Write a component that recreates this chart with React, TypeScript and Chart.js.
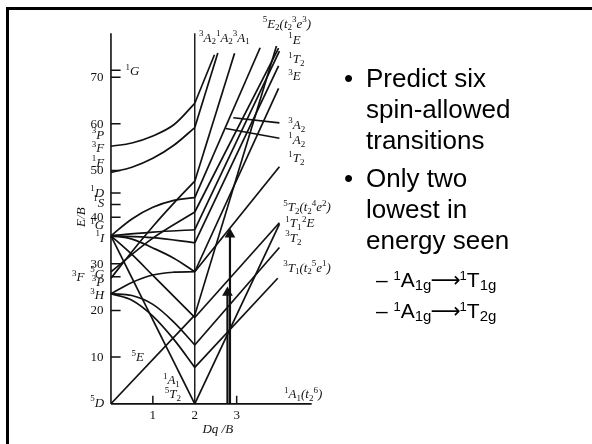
import React, { useEffect, useRef } from 'react';
import { Chart, registerables } from 'chart.js';
Chart.register(...registerables);

type P = [number, number];

// ---- axes ----
const axisTopE = 79.4;
const baselineEndX = 4.79;
const yTickValues = [10, 20, 30, 40, 50, 60, 70];
const termTickValues = [71.5, 45.2, 42.7, 27.2];
const xTickValues = [1, 3];
const xTickLabelValues = [1, 2, 3];

// ---- weak-field part (Dq/B 0 -> 2), energies E/B ----
const w3P: P[] = [[0, 55.2], [0.5, 55.9], [1, 57.4], [1.5, 59.8], [2, 64.4]];
const w1F: P[] = [[0, 49.6], [0.5, 50.7], [1, 52.6], [1.5, 55.4], [2, 59.2]];
const wRiseA: P[] = [[0, 26.9], [0.5, 32.6], [1, 38.0], [1.5, 43.0], [2, 47.7]];
const wRiseB: P[] = [[0, 28.3], [1, 35.5], [2, 41.1]];
const w1Iup: P[] = [[0, 36], [0.5, 39.6], [1, 42.1], [1.5, 43.6], [2, 44.2]];
const w1Iflat: P[] = [[0, 36], [1, 36.8], [2, 37.3]];
const w1Ilow: P[] = [[0, 36], [1, 35.6], [2, 34.5]];
const w1Iarch: P[] = [[0, 36], [0.5, 35.3], [1, 33.4], [1.5, 31.2], [2, 28.3]];
const w3Harch: P[] = [[0, 23.6], [0.5, 26.0], [1, 27.6], [1.5, 28.2], [2, 28.3]];
const w1A1: P[] = [[0, 36], [2, 0]];
const w1T1: P[] = [[0, 36], [0.5, 32.0], [1, 27.5], [1.5, 23.0], [2, 18.5]];
const w3T2: P[] = [[0, 23.6], [0.5, 23.2], [1, 21.3], [1.5, 17.5], [2, 12.6]];
const w3T1: P[] = [[0, 23.6], [0.5, 22.2], [1, 18.8], [1.5, 13.8], [2, 7.8]];
const w5E: P[] = [[0, 0], [2, 19]];

// ---- strong-field part (Dq/B 2 -> 4) ----
const sA: P[] = [[2, 64.4], [2.47, 74.8]];
const sB: P[] = [[2, 59.2], [2.55, 75.2]];
const sC: P[] = [[2, 47.7], [2.95, 75.1]];
const sD: P[] = [[2, 44.2], [3.56, 76.3]];
const sE: P[] = [[2, 41.1], [4.0, 76.2]];
const sF: P[] = [[2, 37.3], [4.02, 75.6]];
const sG: P[] = [[2, 34.5], [4.0, 72.4]];
const sH: P[] = [[2, 28.3], [4.0, 67.6]];
const s1T2: P[] = [[2, 28.3], [4.02, 50.8]];
const s5E: P[] = [[2, 19], [3.95, 76.7]];
const s1T1: P[] = [[2, 18.5], [4.02, 38.8]];
const s5T2: P[] = [[2, 0], [4.02, 38.5]];
const s3T2: P[] = [[2, 12.6], [4.02, 33.5]];
const s3T1: P[] = [[2, 7.8], [3.98, 26.9]];
const s3A2: P[] = [[2.92, 61.3], [4.02, 60.2]];
const s1A2: P[] = [[2.74, 59.0], [4.02, 56.9]];

// ---- observed transitions (arrows) ----
const arrowX = [2.78, 2.84];
const arrowTopE = [23.8, 36.3];

// ---- labels: [text, x, E (centre), align] ----
const termLabels: [string, number, number, string][] = [
  ['^5D', -0.16, 0.2, 'r'],
  ['^3H', -0.16, 23.3, 'r'],
  ['^3P', -0.16, 26.0, 'r'],
  ['^5G', -0.16, 27.9, 'r'],
  ['^3F', -0.63, 27.1, 'r'],
  ['^1I', -0.16, 35.6, 'r'],
  ['^1G', -0.16, 38.3, 'r'],
  ['^1S', -0.16, 43.1, 'r'],
  ['^1D', -0.16, 45.2, 'r'],
  ['^1F', -0.16, 51.7, 'r'],
  ['^3F', -0.16, 54.8, 'r'],
  ['^3P', -0.16, 57.7, 'r'],
  ['^1G', 0.35, 71.25, 'l'],
  ['^5E', 0.49, 10, 'l'],
  ['^1A_1', 1.24, 5, 'l'],
  ['^5T_2', 1.285, 2.1, 'l'],
  ['^3A_2^1A_2^3A_1', 2.1, 78.5, 'l'],
  ['^5E_2(t_2^3e^3)', 3.62, 81.5, 'l'],
  ['^1E', 4.23, 78.0, 'l'],
  ['^1T_2', 4.23, 73.8, 'l'],
  ['^3E', 4.23, 70.2, 'l'],
  ['^3A_2', 4.23, 59.8, 'l'],
  ['^1A_2', 4.23, 56.6, 'l'],
  ['^1T_2', 4.23, 52.6, 'l'],
  ['^5T_2(t_2^4e^2)', 4.11, 42.1, 'l'],
  ['^1T_1', 4.16, 38.75, 'l'],
  ['^2E', 4.56, 38.75, 'l'],
  ['^3T_2', 4.16, 35.6, 'l'],
  ['^3T_1(t_2^5e^1)', 4.11, 29.2, 'l'],
  ['^1A_1(t_2^6)', 4.13, 2.1, 'l'],
];

const SERIF = '"Liberation Serif", "DejaVu Serif", serif';

function parseRich(text: string) {
  const parts: { t: string; m: string }[] = [];
  let i = 0;
  while (i < text.length) {
    const c = text[i];
    if (c === '^' || c === '_') {
      let t = '';
      if (text[i + 1] === '{') {
        const k = text.indexOf('}', i + 1);
        t = text.slice(i + 2, k);
        i = k + 1;
      } else {
        t = text[i + 1];
        i += 2;
      }
      parts.push({ t, m: c === '^' ? 'sup' : 'sub' });
    } else {
      parts.push({ t: c, m: 'n' });
      i++;
    }
  }
  return parts;
}

function drawRich(ctx: CanvasRenderingContext2D, text: string, x: number, y: number, size: number, italic: boolean, align: string) {
  const parts = parseRich(text);
  const small = Math.round(size * 0.68);
  const fontFor = (m: string) => `${italic && m === 'n' ? 'italic ' : ''}${m === 'n' ? size : small}px ${SERIF}`;
  let w = 0;
  parts.forEach((p) => {
    ctx.font = fontFor(p.m);
    w += ctx.measureText(p.t).width;
  });
  let cx = align === 'r' ? x - w : align === 'c' ? x - w / 2 : x;
  parts.forEach((p) => {
    ctx.font = fontFor(p.m);
    const dy = p.m === 'sup' ? -size * 0.42 : p.m === 'sub' ? size * 0.22 : 0;
    ctx.fillText(p.t, cx, y + dy);
    cx += ctx.measureText(p.t).width;
  });
}

const labelPlugin = {
  id: 'tsLabels',
  afterDraw(chart: any) {
    const ctx: CanvasRenderingContext2D = chart.ctx;
    const xs = chart.scales.x;
    const ys = chart.scales.y;
    const px = (v: number) => xs.getPixelForValue(v);
    const py = (v: number) => ys.getPixelForValue(v);
    ctx.save();
    ctx.fillStyle = '#111';
    ctx.textBaseline = 'alphabetic';
    yTickValues.forEach((v) => drawRich(ctx, String(v), px(-0.18), py(v) + 4, 13, false, 'r'));
    xTickLabelValues.forEach((v) => drawRich(ctx, String(v), px(v), py(-2.3) + 4, 13, false, 'c'));
    termLabels.forEach(([t, x, e, a]) => drawRich(ctx, t, px(x), py(e) + 4, 13, true, a));
    drawRich(ctx, 'Dq /B', px(2.55), py(-5.4) + 4, 13, true, 'c');
    ctx.save();
    ctx.translate(px(-0.72), py(40));
    ctx.rotate(-Math.PI / 2);
    drawRich(ctx, 'E/B', 0, 4, 13, true, 'c');
    ctx.restore();
    ctx.restore();
  },
};

function line(points: P[], width = 1.7, tension = 0) {
  return {
    data: points.map(([x, y]) => ({ x, y })),
    showLine: true,
    borderColor: '#111',
    backgroundColor: '#111',
    borderWidth: width,
    pointRadius: 0,
    tension,
    fill: false,
  };
}

export default function App() {
  const ref = useRef<HTMLCanvasElement>(null);
  useEffect(() => {
    if (!ref.current) return;
    const curves: P[][] = [w3P, w1F, wRiseA, wRiseB, w1Iup, w1Iflat, w1Ilow, w1Iarch, w3Harch, w1T1, w3T2, w3T1];
    const straights: P[][] = [w1A1, w5E, sA, sB, sC, sD, sE, sF, sG, sH, s1T2, s5E, s1T1, s5T2, s3T2, s3T1, s3A2, s1A2];
    const datasets: any[] = [];
    datasets.push(line([[0, 0], [0, axisTopE]], 1.6));
    datasets.push(line([[2, 0], [2, axisTopE]], 1.4));
    datasets.push(line([[0, 0], [baselineEndX, 0]], 1.8));
    [...yTickValues, ...termTickValues].forEach((v) => datasets.push(line([[0, v], [0.23, v]], 1.5)));
    xTickValues.forEach((v) => datasets.push(line([[v, 0], [v, 1.7]], 1.5)));
    curves.forEach((c) => datasets.push(line(c, 1.7, 0.35)));
    straights.forEach((c) => datasets.push(line(c, 1.7)));
    arrowX.forEach((x, i) => {
      const d: any = line([[x, 0], [x, arrowTopE[i]]], 2.2);
      d.pointRadius = [0, 4];
      d.pointStyle = 'triangle';
      d.pointBorderColor = '#111';
      d.pointBackgroundColor = '#111';
      datasets.push(d);
    });
    const chart = new Chart(ref.current, {
      type: 'scatter',
      data: { datasets },
      options: {
        animation: false,
        responsive: false,
        events: [],
        layout: { padding: 0 },
        plugins: { legend: { display: false }, tooltip: { enabled: false } },
        scales: {
          x: { type: 'linear', min: -2.5, max: 11.3318, display: false },
          y: { type: 'linear', min: -7.2917, max: 85.2083, display: false },
        },
      },
      plugins: [labelPlugin],
    } as any);
    return () => chart.destroy();
  }, []);

  const main: React.CSSProperties = {
    position: 'absolute',
    left: 366,
    fontFamily: '"Liberation Sans", Arial, sans-serif',
    fontSize: 26,
    lineHeight: '26px',
    color: '#000',
    whiteSpace: 'nowrap',
  };
  const bullet: React.CSSProperties = { ...main, left: 344 };
  const sub: React.CSSProperties = { ...main, left: 376, fontSize: 21, lineHeight: '21px' };
  const sup: React.CSSProperties = { position: 'relative', top: -7, fontSize: 13 };
  const sb: React.CSSProperties = { position: 'relative', top: 3, fontSize: 15 };
  const arr: React.CSSProperties = { fontFamily: '"DejaVu Sans", sans-serif', fontSize: 21, margin: '0 -1px' };

  return (
    <div style={{ position: 'absolute', left: 0, top: 0, width: 592, height: 444, background: '#fff', overflow: 'hidden' }}>
      <canvas ref={ref} width={592} height={444} style={{ display: 'block', position: 'absolute', left: 0, top: 0 }} />
      <div style={{ position: 'absolute', left: 6, top: 7, width: 700, height: 600, borderLeft: '3px solid #000', borderTop: '3px solid #000' }} />
      <div style={{ ...bullet, top: 65 }}>•</div>
      <div style={{ ...main, top: 65 }}>Predict six</div>
      <div style={{ ...main, top: 96 }}>spin-allowed</div>
      <div style={{ ...main, top: 127 }}>transitions</div>
      <div style={{ ...bullet, top: 165 }}>•</div>
      <div style={{ ...main, top: 165 }}>Only two</div>
      <div style={{ ...main, top: 196 }}>lowest in</div>
      <div style={{ ...main, top: 227 }}>energy seen</div>
      <div style={{ ...sub, top: 269 }}>
        – <span style={sup}>1</span>A<span style={sb}>1g</span><span style={arr}>⟶</span><span style={sup}>1</span>T<span style={sb}>1g</span>
      </div>
      <div style={{ ...sub, top: 300 }}>
        – <span style={sup}>1</span>A<span style={sb}>1g</span><span style={arr}>⟶</span><span style={sup}>1</span>T<span style={sb}>2g</span>
      </div>
    </div>
  );
}
